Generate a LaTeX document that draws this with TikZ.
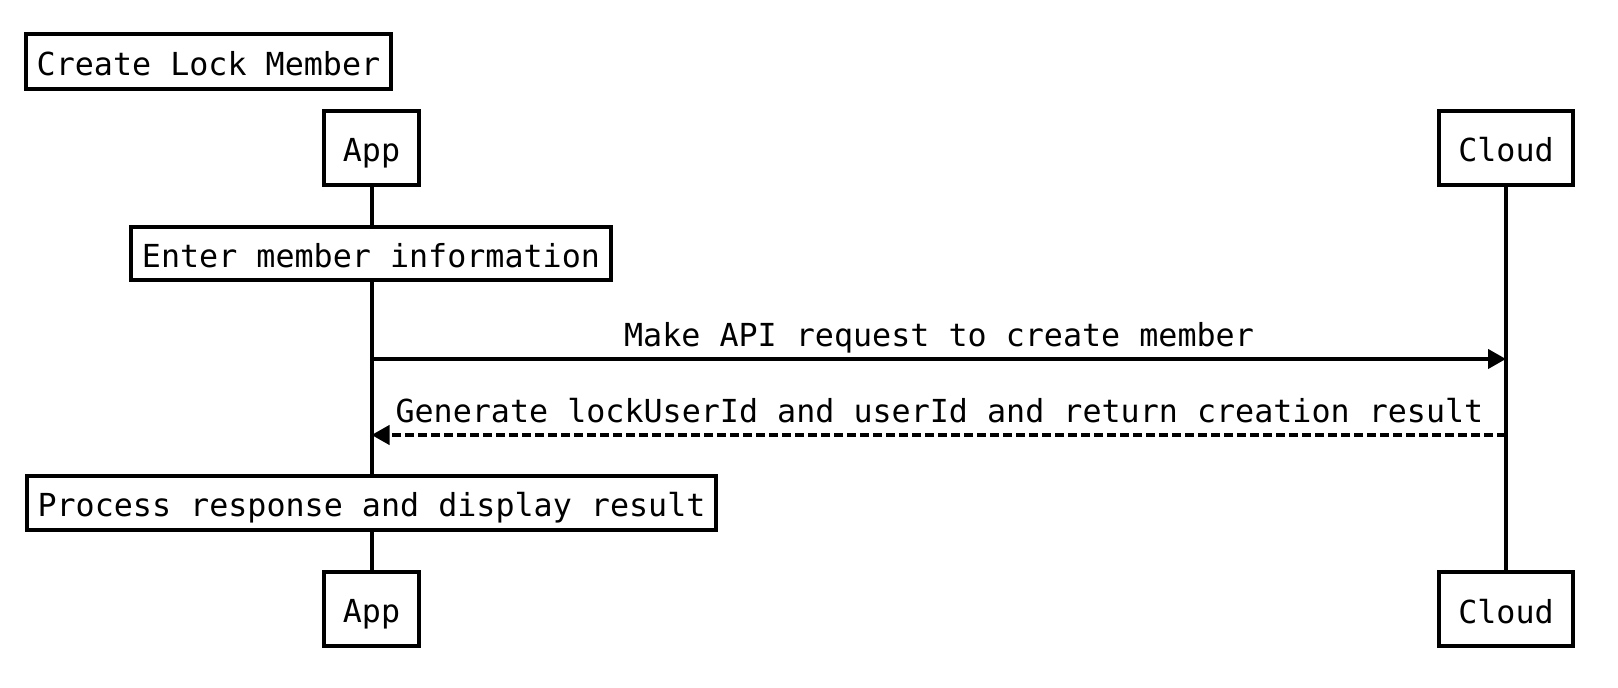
\documentclass[tikz,border=0pt]{standalone}
\usepackage{fontspec}
\setmonofont{DejaVu Sans Mono}
\usetikzlibrary{arrows.meta}
\begin{document}
\begin{tikzpicture}[x=0.5pt,y=-0.5pt,
  every node/.style={font=\ttfamily\fontsize{15.85pt}{19pt}\selectfont},
  box/.style={draw,line width=2pt,fill=white,inner sep=0pt,text height=14pt,text depth=0pt,minimum height=#1},
  box/.default=27pt,
  lifeline/.style={line width=2pt},
  msg/.style={line width=2pt,-{Triangle[length=9pt,width=9.5pt]}},
  reply/.style={msg,dash pattern=on 4.5pt off 2pt},
  lbl/.style={anchor=base,inner sep=0pt}]
\useasboundingbox (0,0) rectangle (1618,688);
% participants
\node[box=37pt,minimum width=47.5pt] (apptop) at (371.5,148) {App};
\node[box=37pt,minimum width=67pt] (cloudtop) at (1506,148) {Cloud};
\node[box=37pt,minimum width=47.5pt] (appbot) at (371.5,609) {App};
\node[box=37pt,minimum width=67pt] (cloudbot) at (1506,609.5) {Cloud};
% lifelines
\draw[lifeline] (apptop.south) -- (appbot.north);
\draw[lifeline] (cloudtop.south) -- (cloudbot.north);
% title
\node[box=27.5pt,minimum width=182.5pt] (title) at (208.5,61.5) {Create Lock Member};
% activities
\node[box=26.5pt,minimum width=240pt] (enter) at (371,253.5) {Enter member information};
\node[box=27pt,minimum width=344.5pt] (process) at (371.5,503) {Process response and display result};
% messages
\coordinate (reqA) at (371.5,359);
\coordinate (reqC) at (1506,359);
\coordinate (retC) at (1506,435);
\coordinate (retA) at (371.5,435);
\draw[msg] (reqA) -- (reqC);
\draw[reply] (retC) -- (retA);
\node[lbl] (reqlbl) at (939,347) {Make API request to create member};
\node[lbl] (retlbl) at (939.5,423) {Generate lockUserId and userId and return creation result};
\end{tikzpicture}
\end{document}
